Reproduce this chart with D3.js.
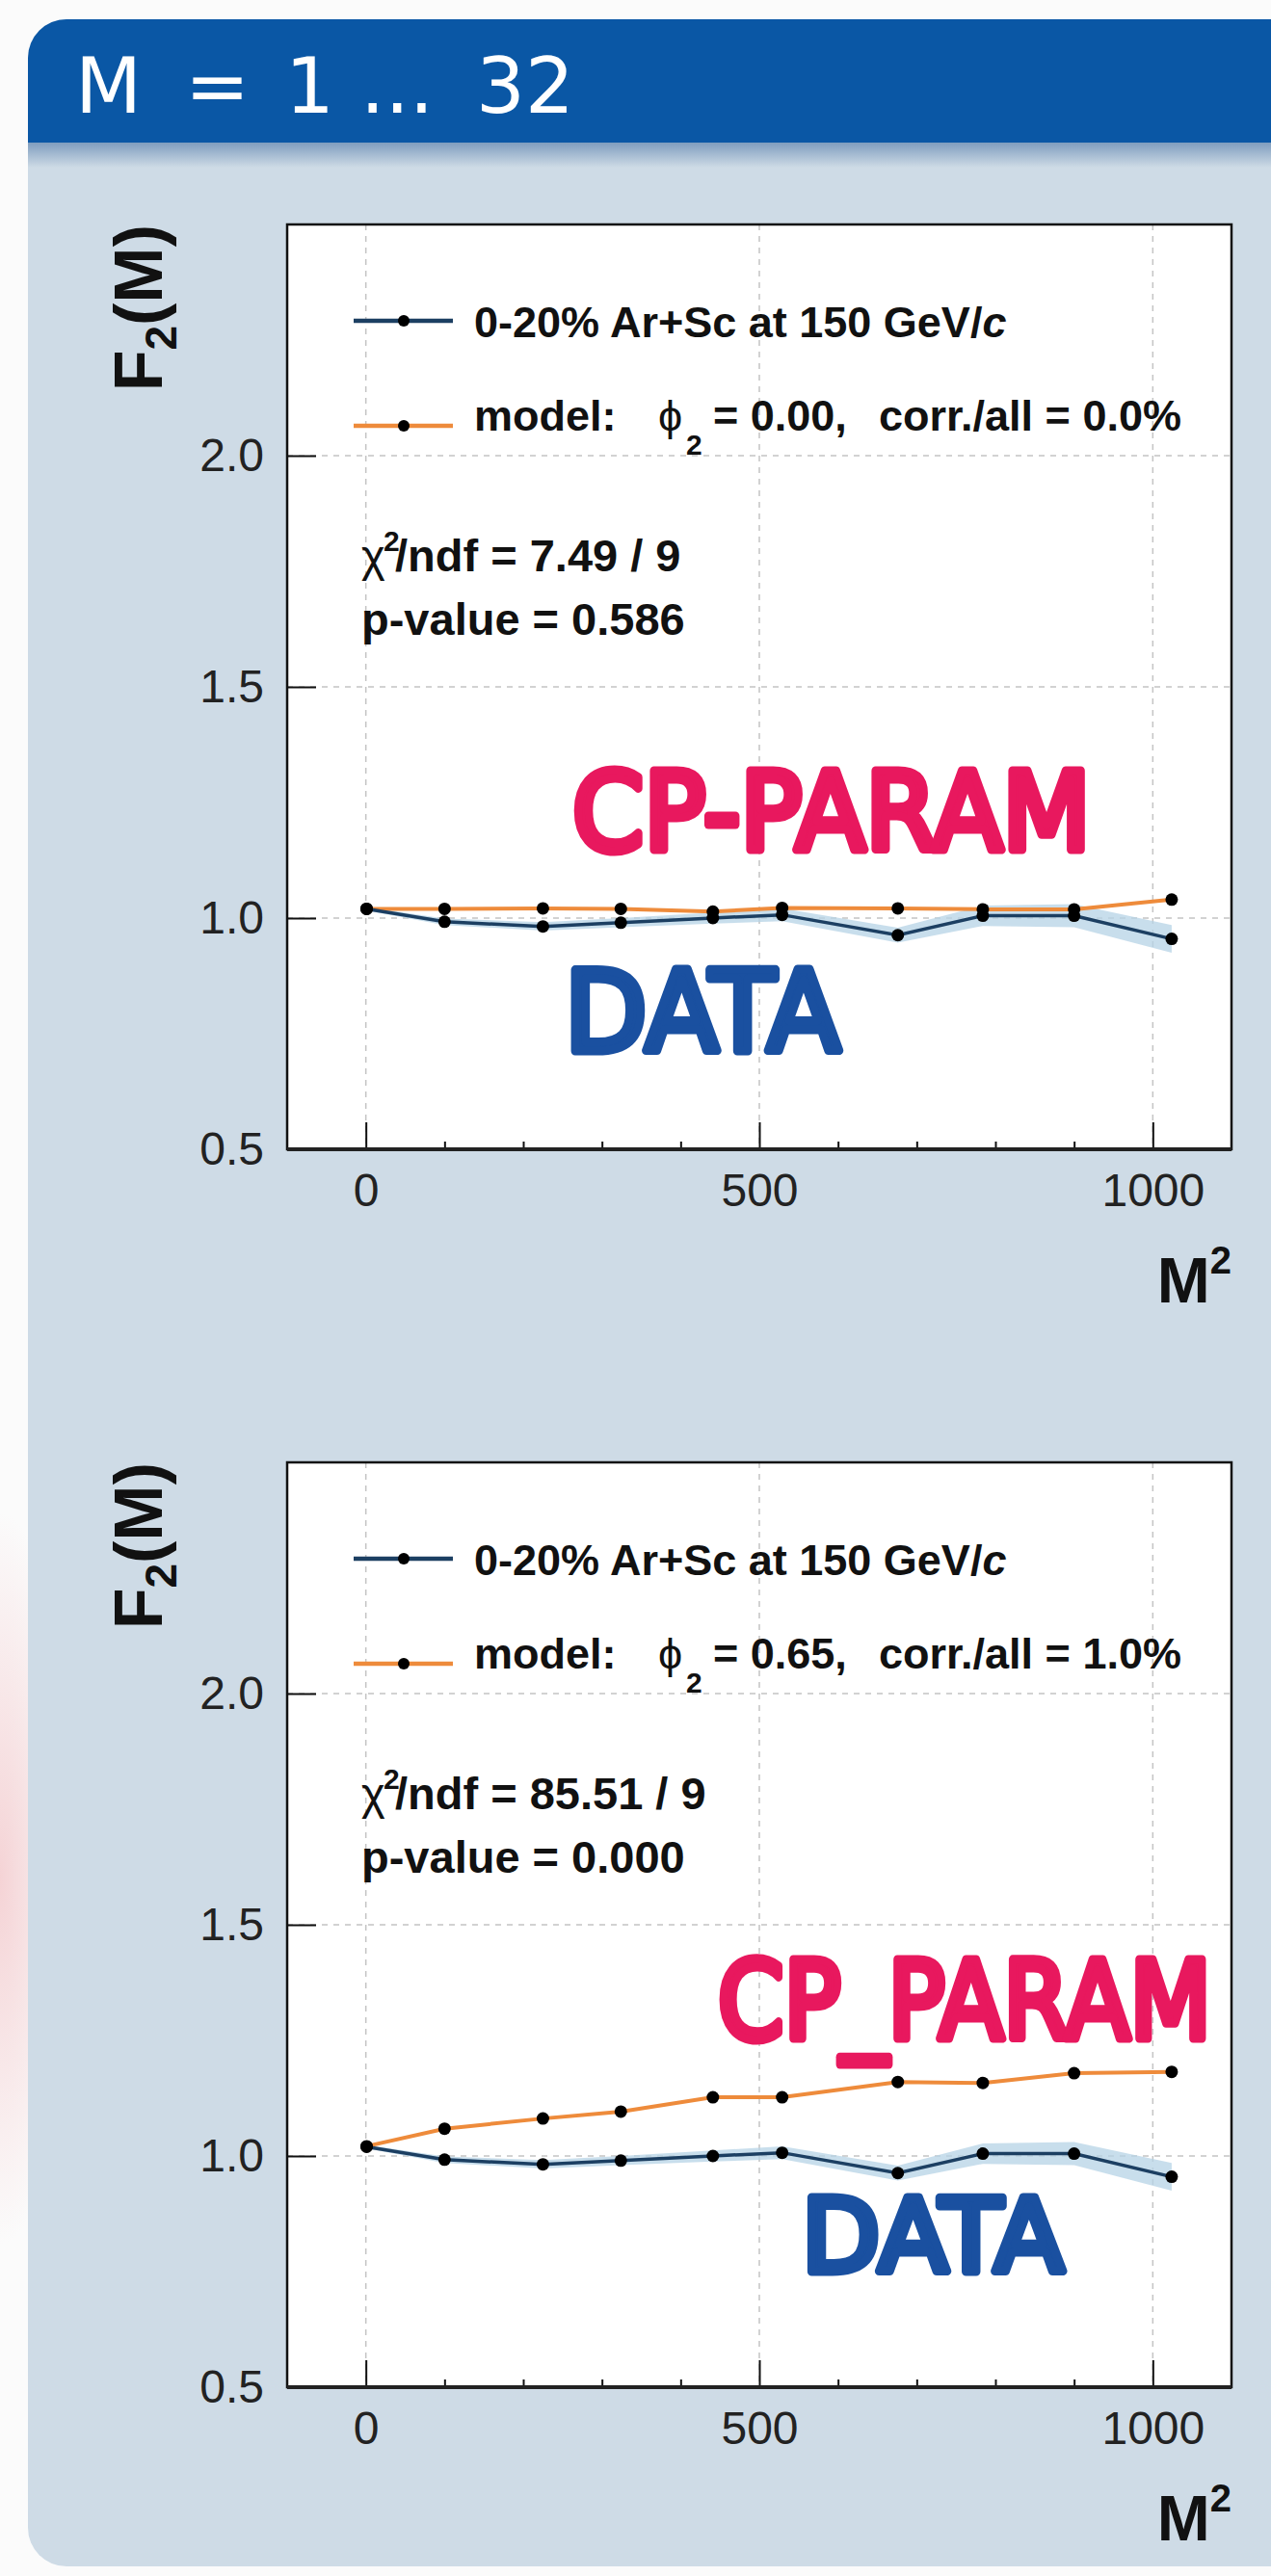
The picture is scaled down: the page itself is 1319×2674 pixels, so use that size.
<!DOCTYPE html>
<html>
<head>
<meta charset="utf-8">
<script src="https://cdn.jsdelivr.net/npm/d3@7/dist/d3.min.js"></script>
<style>
  body { margin: 0; background: #fff; }
  svg { display: block; }
  text { font-family: "Liberation Sans", Arial, Helvetica, sans-serif; }
</style>
</head>
<body>
<div id="slide"></div>
<script>
// 横轴 M^2 (M = 1, 10, 15, 18, 21, 23, 26, 28, 30, 32)
var m2Values = [1, 100, 225, 324, 441, 529, 676, 784, 900, 1024];
// 数据 F2(M) 和误差带
var dataF2 = [1.020, 0.992, 0.982, 0.990, 1.000, 1.007, 0.963, 1.005, 1.005, 0.955];
var dataErr = [0.004, 0.007, 0.009, 0.010, 0.012, 0.014, 0.016, 0.022, 0.025, 0.030];
// 模型 F2(M)，上图 / 下图
var modelTop = [1.020, 1.020, 1.021, 1.020, 1.014, 1.022, 1.021, 1.019, 1.019, 1.040];
var modelBottom = [1.021, 1.059, 1.081, 1.096, 1.127, 1.127, 1.160, 1.158, 1.179, 1.182];

// 刻度
var xTicks = [0, 500, 1000];
var xMinorTicks = [100, 200, 300, 400, 600, 700, 800, 900];
var yTicks = [0.5, 1.0, 1.5, 2.0];
var xGrid = [0, 500, 1000];
var yGrid = [1.0, 1.5, 2.0];

// 图中文字
var phiValues = ["0.00", "0.65"];
var corrValues = ["0.0%", "1.0%"];
var chi2Values = ["7.49 / 9", "85.51 / 9"];
var pValues = ["0.586", "0.000"];

// 画布大小
var width = 1319;
var height = 2674;

// 绘图区 (相对每个面板)
var plot = {left: 298, right: 1278, top: 233, bottom: 1193};
var panelOffsets = [0, 1285];

var blue = "#1c3f62";
var orange = "#ee8b3b";
var pink = "#e8185e";
var marker = "#1a50a0";

var svg = d3.select("#slide")
    .append("svg")
    .attr("width", width)
    .attr("height", height);

var defs = svg.append("defs");
defs.append("clipPath").attr("id", "panelClip")
    .append("rect")
    .attr("x", 29).attr("y", 20)
    .attr("width", 1400).attr("height", 2644)
    .attr("rx", 40);
var shade = defs.append("linearGradient").attr("id", "shade")
    .attr("x1", 0).attr("y1", 0).attr("x2", 0).attr("y2", 1);
shade.append("stop").attr("offset", 0).attr("stop-color", "#7f9dbf");
shade.append("stop").attr("offset", 1).attr("stop-color", "#cedbe6");
var glow = defs.append("radialGradient").attr("id", "glow");
glow.append("stop").attr("offset", 0).attr("stop-color", "#f3c9cc").attr("stop-opacity", 0.8);
glow.append("stop").attr("offset", 1).attr("stop-color", "#f3c9cc").attr("stop-opacity", 0);

// 背景
svg.append("rect").attr("width", width).attr("height", height).attr("fill", "#fbfbfb");
svg.append("ellipse")
    .attr("cx", 0).attr("cy", 1950)
    .attr("rx", 80).attr("ry", 380)
    .attr("fill", "url(#glow)");

var panel = svg.append("g").attr("clip-path", "url(#panelClip)");
panel.append("rect")
    .attr("x", 29).attr("y", 20)
    .attr("width", 1400).attr("height", 2644)
    .attr("fill", "#cedbe6");
panel.append("rect")
    .attr("x", 29).attr("y", 20)
    .attr("width", 1400).attr("height", 128)
    .attr("fill", "#0a57a5");
panel.append("rect")
    .attr("x", 29).attr("y", 148)
    .attr("width", 1400).attr("height", 26)
    .attr("fill", "url(#shade)");

// 标题
var title = svg.append("text")
    .attr("y", 117)
    .attr("fill", "#fff")
    .style("font-family", "'DejaVu Sans', sans-serif")
    .style("font-size", "80px");
title.append("tspan").attr("x", 78).text("M");
title.append("tspan").attr("x", 192).text("=");
title.append("tspan").attr("x", 296).text("1");
title.append("tspan").attr("x", 374).text("...");
title.append("tspan").attr("x", 494).text("32");

var xScale = d3.scaleLinear().domain([-100, 1100]).range([plot.left, plot.right]);
var yScale = d3.scaleLinear().domain([0.5, 2.5]).range([plot.bottom, plot.top]);

function drawPanel(idx, model) {
    var g = svg.append("g").attr("transform", "translate(0," + panelOffsets[idx] + ")");

    // 白色绘图区
    g.append("rect")
        .attr("x", plot.left).attr("y", plot.top)
        .attr("width", plot.right - plot.left)
        .attr("height", plot.bottom - plot.top)
        .attr("fill", "#fff");

    // 网格线
    g.selectAll(".vgrid")
        .data(xGrid)
        .enter()
        .append("line")
        .attr("x1", function(d){ return xScale(d); })
        .attr("x2", function(d){ return xScale(d); })
        .attr("y1", plot.top).attr("y2", plot.bottom)
        .attr("stroke", "#c4c4c4").attr("stroke-width", 1.5)
        .attr("stroke-dasharray", "6,6");
    g.selectAll(".hgrid")
        .data(yGrid)
        .enter()
        .append("line")
        .attr("y1", function(d){ return yScale(d); })
        .attr("y2", function(d){ return yScale(d); })
        .attr("x1", plot.left).attr("x2", plot.right)
        .attr("stroke", "#c4c4c4").attr("stroke-width", 1.5)
        .attr("stroke-dasharray", "6,6");

    // 误差带
    var band = d3.area()
        .x(function(d, i){ return xScale(m2Values[i]); })
        .y0(function(d, i){ return yScale(d - dataErr[i]); })
        .y1(function(d, i){ return yScale(d + dataErr[i]); });
    g.append("path")
        .attr("d", band(dataF2))
        .attr("fill", "#b5d3e6")
        .attr("opacity", 0.75);

    var line = d3.line()
        .x(function(d, i){ return xScale(m2Values[i]); })
        .y(function(d){ return yScale(d); });

    g.append("path")
        .attr("d", line(model))
        .attr("fill", "none")
        .attr("stroke", orange)
        .attr("stroke-width", 4);
    g.append("path")
        .attr("d", line(dataF2))
        .attr("fill", "none")
        .attr("stroke", blue)
        .attr("stroke-width", 3.5);

    g.selectAll(".modelPt")
        .data(model)
        .enter()
        .append("circle")
        .attr("cx", function(d, i){ return xScale(m2Values[i]); })
        .attr("cy", function(d){ return yScale(d); })
        .attr("r", 6.5)
        .attr("fill", "#000");
    g.selectAll(".dataPt")
        .data(dataF2)
        .enter()
        .append("circle")
        .attr("cx", function(d, i){ return xScale(m2Values[i]); })
        .attr("cy", function(d){ return yScale(d); })
        .attr("r", 6.5)
        .attr("fill", "#000");

    // 坐标轴
    var yAxis = d3.axisLeft(yScale)
        .tickValues(yTicks)
        .tickSizeInner(-30)
        .tickSizeOuter(0)
        .tickPadding(24)
        .tickFormat(d3.format(".1f"));
    var gy = g.append("g")
        .attr("transform", "translate(" + plot.left + ",0)")
        .call(yAxis);

    var xAxis = d3.axisBottom(xScale)
        .tickValues(xTicks)
        .tickSizeInner(-28)
        .tickSizeOuter(0)
        .tickPadding(25)
        .tickFormat(d3.format("d"));
    var gx = g.append("g")
        .attr("transform", "translate(0," + plot.bottom + ")")
        .call(xAxis);

    var xMinor = d3.axisBottom(xScale)
        .tickValues(xMinorTicks)
        .tickSizeInner(-8)
        .tickSizeOuter(0)
        .tickFormat("");
    var gm = g.append("g")
        .attr("transform", "translate(0," + plot.bottom + ")")
        .call(xMinor);

    [gx, gy, gm].forEach(function(a){
        a.select(".domain").remove();
        a.selectAll("line").attr("stroke", "#111").attr("stroke-width", 2);
        a.selectAll("text")
            .attr("fill", "#222")
            .style("font-family", "'Liberation Sans', Arial, sans-serif")
            .style("font-size", "48px");
    });

    // 边框
    g.append("rect")
        .attr("x", plot.left).attr("y", plot.top)
        .attr("width", plot.right - plot.left)
        .attr("height", plot.bottom - plot.top)
        .attr("fill", "none")
        .attr("stroke", "#111")
        .attr("stroke-width", 2.5);
    g.append("line")
        .attr("x1", plot.left).attr("x2", plot.right)
        .attr("y1", plot.bottom).attr("y2", plot.bottom)
        .attr("stroke", "#222").attr("stroke-width", 4);

    // 轴标题
    var yt = g.append("text")
        .attr("transform", "translate(168," + plot.top + ") rotate(-90)")
        .attr("text-anchor", "end")
        .attr("fill", "#111")
        .style("font-weight", "bold")
        .style("font-size", "70px");
    yt.append("tspan").text("F");
    yt.append("tspan").attr("dy", 15).style("font-size", "46px").text("2");
    yt.append("tspan").attr("dy", -15).text("(M)");

    var xt = g.append("text")
        .attr("x", plot.right).attr("y", 1352)
        .attr("text-anchor", "end")
        .attr("fill", "#111")
        .style("font-weight", "bold")
        .style("font-size", "66px");
    xt.append("tspan").text("M");
    xt.append("tspan").attr("dy", -30).style("font-size", "40px").text("2");

    // 图例
    var legendRows = [{y: 333, color: blue}, {y: 442, color: orange}];
    legendRows.forEach(function(r){
        g.append("line")
            .attr("x1", 367).attr("x2", 470)
            .attr("y1", r.y).attr("y2", r.y)
            .attr("stroke", r.color).attr("stroke-width", 4.5);
        g.append("circle")
            .attr("cx", 419).attr("cy", r.y).attr("r", 6)
            .attr("fill", "#000");
    });

    var lt = g.append("text")
        .attr("x", 492).attr("y", 350)
        .attr("fill", "#111")
        .style("font-weight", "bold")
        .style("font-size", "45px");
    lt.append("tspan").text("0-20% Ar+Sc at 150 GeV/");
    lt.append("tspan").style("font-style", "italic").text("c");

    var legendText = g.append("g")
        .attr("fill", "#111")
        .style("font-weight", "bold")
        .style("font-size", "45px");
    legendText.append("text").attr("x", 492).attr("y", 447).text("model:");
    legendText.append("text").attr("x", 683).attr("y", 447)
        .style("font-weight", "normal").text("ϕ");
    legendText.append("text").attr("x", 712).attr("y", 472)
        .style("font-size", "30px").text("2");
    legendText.append("text").attr("x", 740).attr("y", 447)
        .text("= " + phiValues[idx] + ",");
    legendText.append("text").attr("x", 912).attr("y", 447)
        .text("corr./all = " + corrValues[idx]);

    // chi2 和 p 值
    var chi = g.append("g")
        .attr("fill", "#111")
        .style("font-size", "47px");
    chi.append("text").attr("x", 375).attr("y", 593).text("χ");
    chi.append("text").attr("x", 398).attr("y", 572)
        .style("font-size", "30px").style("font-weight", "bold").text("2");
    chi.append("text").attr("x", 410).attr("y", 593)
        .style("font-weight", "bold").text("/ndf = " + chi2Values[idx]);
    chi.append("text").attr("x", 375).attr("y", 659)
        .style("font-weight", "bold").text("p-value = " + pValues[idx]);
}

drawPanel(0, modelTop);
drawPanel(1, modelBottom);

// 手写标注 (横向压缩到目标宽度)
function note(s, x, y, size, len, color) {
    var t = svg.append("text")
        .attr("x", 0).attr("y", 0)
        .attr("fill", color)
        .attr("stroke", color)
        .attr("stroke-width", 9)
        .attr("stroke-linejoin", "round")
        .attr("stroke-linecap", "round")
        .style("font-family", "'DejaVu Sans', sans-serif")
        .style("font-size", size + "px")
        .text(s);
    var w = t.node().getComputedTextLength();
    t.attr("transform", "translate(" + x + "," + y + ") scale(" + (len / w) + ",1)");
}
note("CP-PARAM", 594, 882, 112, 538, pink);
note("DATA", 586, 1091, 116, 286, marker);
note("CP_PARAM", 745, 2116, 112, 512, pink);
note("DATA", 832, 2358, 106, 272, marker);
</script>
</body>
</html>
